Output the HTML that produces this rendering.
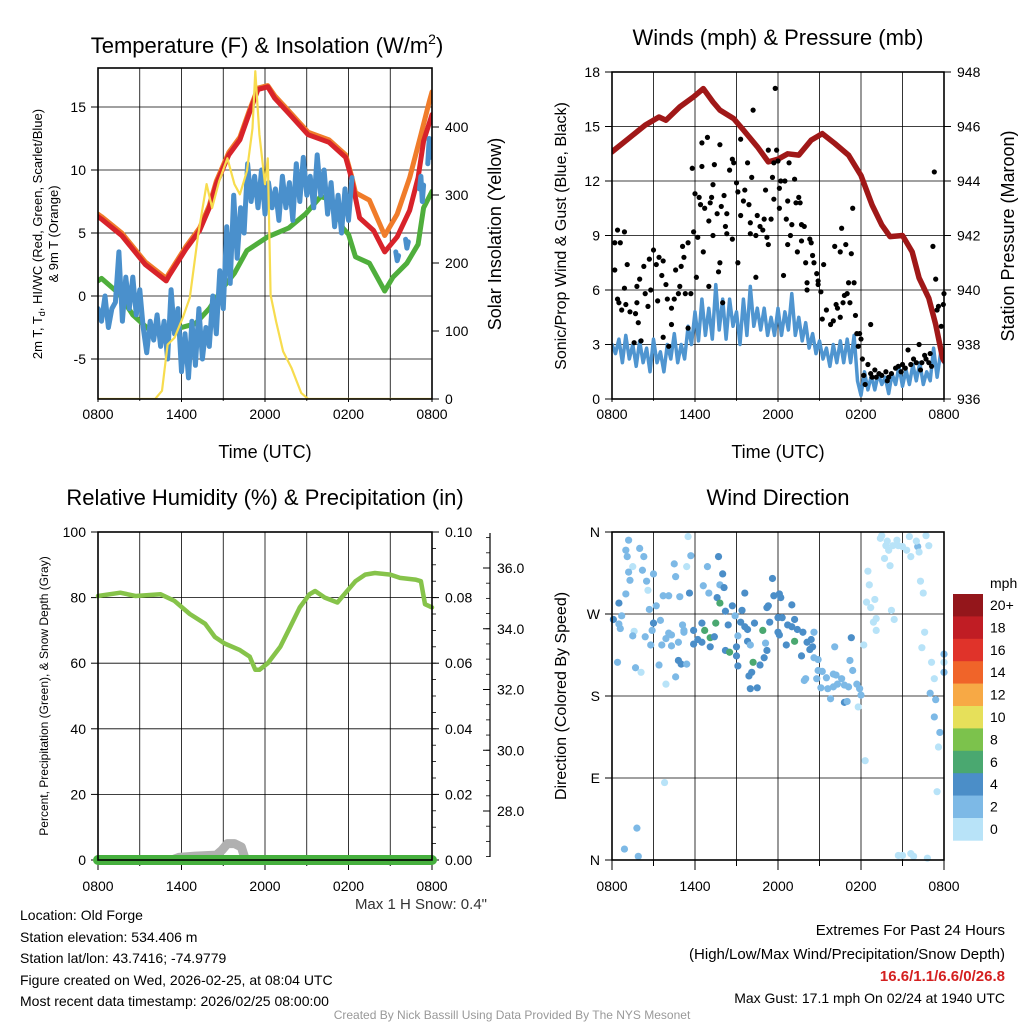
<!DOCTYPE html>
<html><head><meta charset="utf-8">
<style>
html,body{margin:0;padding:0;background:#fff;}
svg{display:block;font-family:"Liberation Sans",Arial,sans-serif;}
</style></head>
<body>
<svg id="chart" width="1024" height="1024" viewBox="0 0 1024 1024" xmlns="http://www.w3.org/2000/svg">
<rect width="1024" height="1024" fill="#fff"/>
<g id="p1"></g>
<g id="p2"></g>
<g id="p3"></g>
<g id="p4"></g>

<text x="267" y="53" font-size="22" text-anchor="middle">Temperature (F) &amp; Insolation (W/m<tspan dy="-9" font-size="14">2</tspan><tspan dy="9">)</tspan></text>
<text x="778" y="45" font-size="22" text-anchor="middle">Winds (mph) &amp; Pressure (mb)</text>
<text x="265" y="505" font-size="22" text-anchor="middle">Relative Humidity (%) &amp; Precipitation (in)</text>
<text x="778" y="505" font-size="22" text-anchor="middle">Wind Direction</text>

<text transform="translate(42,234) rotate(-90)" font-size="13" text-anchor="middle">2m T, T<tspan font-size="9" dy="3">d</tspan><tspan dy="-3">, HI/WC (Red, Green, Scarlet/Blue)</tspan></text>
<text transform="translate(58,234) rotate(-90)" font-size="13" text-anchor="middle">&amp; 9m T (Orange)</text>
<text transform="translate(501,234) rotate(-90)" font-size="18" text-anchor="middle">Solar Insolation (Yellow)</text>
<text x="265" y="458" font-size="18" text-anchor="middle">Time (UTC)</text>
<text transform="translate(566,236) rotate(-90)" font-size="16" text-anchor="middle">Sonic/Prop Wind &amp; Gust (Blue, Black)</text>
<text transform="translate(1014,236) rotate(-90)" font-size="18" text-anchor="middle">Station Pressure (Maroon)</text>
<text x="778" y="458" font-size="18" text-anchor="middle">Time (UTC)</text>
<text transform="translate(48,696) rotate(-90)" font-size="12" text-anchor="middle">Percent, Precipitation (Green), &amp; Snow Depth (Gray)</text>
<text transform="translate(566,696) rotate(-90)" font-size="16" text-anchor="middle">Direction (Colored By Speed)</text>
<text x="487" y="909" font-size="15" fill="#333" text-anchor="end">Max 1 H Snow: 0.4"</text>

<g font-size="14">
<text x="20" y="920">Location: Old Forge</text>
<text x="20" y="942">Station elevation: 534.406 m</text>
<text x="20" y="963">Station lat/lon: 43.7416; -74.9779</text>
<text x="20" y="985">Figure created on Wed, 2026-02-25, at 08:04 UTC</text>
<text x="20" y="1006">Most recent data timestamp: 2026/02/25 08:00:00</text>
</g>
<g font-size="15" text-anchor="end">
<text x="1005" y="935">Extremes For Past 24 Hours</text>
<text x="1005" y="959">(High/Low/Max Wind/Precipitation/Snow Depth)</text>
<text x="1005" y="981" fill="#d42020" font-weight="bold">16.6/1.1/6.6/0/26.8</text>
<text x="1005" y="1003" font-size="14">Max Gust: 17.1 mph On 02/24 at 1940 UTC</text>
</g>
<text x="512" y="1019" font-size="12" fill="#999" text-anchor="middle">Created By Nick Bassill Using Data Provided By The NYS Mesonet</text>
</svg>
<script>
// ---------- DATA (hours since 0800 UTC) ----------
const xTickLabels = ["0800","1400","2000","0200","0800"];
const tempTicks = [-5,0,5,10,15];
const insolTicks = [0,100,200,300,400];
const windTicks = [0,3,6,9,12,15,18];
const presTicks = [936,938,940,942,944,946,948];
const rhTicks = [0,20,40,60,80,100];
const precipTicks = ["0.00","0.02","0.04","0.06","0.08","0.10"];
const snowTicks = ["28.0","30.0","32.0","34.0","36.0"];
const dirTicks = ["N","E","S","W","N"];
const speedLabels = ["0","2","4","6","8","10","12","14","16","18","20+"];
const speedColors = ["#b8e3f8","#7db9e6","#4b8ec8","#4aa870","#7cc24c","#e6e05a","#f7a945","#f06429","#e0332a","#c01d24","#94161b"];

const redHours = [0,0.25,1.7,3.4,4.9,5.1,6.3,7.3,8,8.5,9.4,10.2,10.9,11.5,12.2,12.7,13.7,15.1,16.6,17.8,18.2,18.8,19.8,20.6,21.5,22.4,23,23.4,24];
const redT = [6.3,6.1,4.8,2.5,1.2,1.6,3.7,5.2,7,8.9,11.2,12.4,14.6,16.4,16.6,15.7,14.5,12.8,12.2,11,9.4,6.2,5.2,3.5,4.7,6.8,9.4,12.3,14.4];
const orangeHours = [0,0.25,1.7,3.4,4.9,5.1,6.3,7.3,8,8.5,9.4,10.2,10.9,11.5,12.2,12.7,13.7,15.1,16.6,17.8,18.2,18.5,19.5,20.6,21.5,22.4,23.2,23.8,24];
const orangeT = [6.5,6.3,5,2.7,1.4,1.8,3.9,5.4,7.2,9.1,11.4,12.6,14.8,16.5,16.7,15.9,14.7,13,12.4,11.2,9.6,8.2,7.6,4.8,6.5,9.4,12.8,15.4,16.2];
const greenHours = [0,0.25,1.5,2.5,3.7,5,6,7,8,9,9.8,10.7,12.2,13.7,14.9,16,16.8,17.6,18,18.5,19.5,20.6,21.2,22.2,23,23.4,24];
const greenTd = [1.2,1.4,0.2,-1.5,-2.7,-2.6,-2.5,-2.2,-1,0.7,1.8,3.6,4.7,5.4,6.5,7.9,7.6,5.4,4.9,3.1,2.6,0.4,1.5,2.6,4.1,7,8.3];
const blueHours = [0,0.25,0.5,0.75,1,1.25,1.5,1.75,2,2.25,2.5,2.75,3,3.25,3.5,3.75,4,4.25,4.5,4.75,5,5.25,5.5,5.75,6,6.25,6.5,6.75,7,7.25,7.5,7.75,8,8.25,8.5,8.75,9,9.25,9.5,9.75,10,10.25,10.5,10.75,11,11.25,11.5,11.75,12,12.25,12.5,12.75,13,13.25,13.5,13.75,14,14.25,14.5,14.75,15,15.25,15.5,15.75,16,16.25,16.5,16.75,17,17.25,17.5,17.75,18,18.25,null,21.4,21.5,21.6,null,22.1,22.2,22.3,null,23.1,23.2,23.3,23.4,null,23.7,23.8,23.9,24];
const blueT = [-1,-2,0,-2.5,-1,-0.5,3.5,-2,1.5,-1,1.5,-1.5,0.5,-2.5,-4.5,-2,-3.5,-1.5,-4,-2,-5,0.5,-3,-1,-6,-3,-6.5,-2,-5.5,-1,-5,-2.5,-4,0,-3,2,-1,5.5,1,8,3,7,5,10.5,7.5,9.5,7,10,6.5,9,7,8.5,6,9.5,7,9,6,10.5,7.5,11,8,9.5,7,11.2,8,10,6.5,9,5.5,8,5,8.5,6,9.4,null,3.5,2.8,3.2,null,4.5,3.8,4.3,null,8.5,9.5,7.5,8.8,null,10.5,12.5,11,12];
const insolHours = [0,4.1,4.6,5,5.5,6.1,6.6,7.2,7.8,8.2,8.7,9.3,9.8,10.2,10.7,11.1,11.3,11.6,12,12.2,12.4,12.8,13.3,13.9,14.6,15.1,24];
const insol = [0,0,12,80,90,120,149,242,316,281,320,354,316,301,335,398,482,389,316,354,153,114,70,46,9,0,0];

const presHours = [0,1.2,2.4,3.4,3.9,4.9,5.9,6.6,7.3,7.8,8.8,9.5,10.5,11.3,12,12.7,13.5,14.4,15.2,16.1,17.1,18,18.8,19.5,20.1,21,21.7,22.2,22.9,23.4,23.9,24];
const pressure = [945.07,945.56,946.05,946.35,946.23,946.72,947.09,947.39,946.9,946.6,946.29,945.87,945.26,944.7,944.8,945.0,944.95,945.5,945.74,945.38,944.95,944.2,943.12,942.39,941.96,942.0,941.4,940.44,939.7,938.73,937.5,937.4];
const windSpd = [3,2.5,3.3,2,3.5,2.2,3,1.8,3.2,2,2.8,1.5,3.3,2,2.6,1.5,3,2.2,3.6,2,3,2.2,4,3,4.8,3.2,5.5,3.5,5,3.3,6.3,3.8,5.5,3.3,5.5,4,4.8,3,5.5,3.5,6.2,4,5,3.8,5,3.5,4.5,3.5,5,3.5,4.8,3.8,5.8,3.5,4.5,3.2,4.2,2.8,3.6,2.5,3.2,2.2,2.8,1.8,3,2,3.2,2,3.3,2,3.5,1,0.2,1.5,0.5,1.3,0.5,1.4,0.8,1.2,0.3,1.4,0.8,1.8,0.7,1.6,0.8,1.9,1,2,0.8,1.5,1,2.8,1.2,2.5,2];
const gustPoints = [[0.2,8.6],[0.4,9.3],[0.6,8.6],[0.9,9.2],[0.2,7.1],[0.4,5.5],[0.5,5.3],[0.7,4.9],[0.9,6.1],[1.1,7.4],[1,5.2],[1.3,4.8],[1.6,3.1],[1.7,4.7],[1.8,6.2],[1.9,4.2],[1.8,5.3],[2.1,3.2],[2,6.6],[2.3,7.3],[2.4,5.8],[2.6,5.1],[2.7,7.7],[2.8,6],[3,8.2],[3.2,7.4],[3.3,5.4],[3.4,7.8],[3.6,6.8],[3.7,7.6],[3.7,3.4],[3.9,6.3],[4,5.5],[4.1,2.9],[4.3,4.1],[4.3,5],[4.5,5.5],[4.6,7.1],[4.8,5.8],[4.9,6.2],[5,7.3],[5.1,8.4],[5.2,7.8],[5.3,5.8],[5.5,8.6],[5.5,3.9],[5.7,5.8],[5.8,12.7],[5.9,9.2],[6,11.3],[6.1,6.7],[6.2,8.9],[6.3,11.1],[6.4,10.7],[6.5,12.8],[6.5,14.1],[6.6,8.1],[6.7,10.5],[6.9,14.4],[7,9.8],[7,6.2],[7.1,10.8],[7.2,11.1],[7.3,11.8],[7.3,9],[7.4,12.9],[7.6,10.2],[7.7,7],[7.8,14],[7.8,7.5],[7.9,10.6],[8,5.3],[8.1,11.2],[8.2,9.5],[8.3,9.1],[8.3,10.2],[8.5,12.6],[8.7,13.2],[8.7,8.8],[8.8,13],[9,11.9],[9.1,11.4],[9.1,7.5],[9.3,10.1],[9.3,14.3],[9.5,10.9],[9.6,11.5],[9.8,13],[9.9,10.7],[10,9.1],[10,9.7],[10.1,12.2],[10.2,15.9],[10.4,9],[10.4,6.7],[10.5,10.1],[10.7,9.5],[10.9,9.3],[11,9.9],[11.1,11.5],[11.2,8.9],[11.3,8.5],[11.3,13.7],[11.5,9.9],[11.6,12.2],[11.7,13],[11.7,11],[11.8,17.1],[11.9,13.7],[12,13.1],[12.1,11.6],[12.1,10.5],[12.2,12],[12.4,6.8],[12.5,12],[12.6,9.9],[12.7,10.9],[12.7,8.5],[12.8,13],[12.9,9],[13,9.6],[13.2,12.1],[13.3,10.8],[13.4,8.1],[13.5,11.1],[13.6,10.8],[13.7,9.6],[13.7,8.7],[13.9,9.5],[14,7.5],[14.1,6.4],[14.1,6],[14.3,8.8],[14.4,8.6],[14.5,7.9],[14.6,7.5],[14.8,6.9],[14.9,6.5],[14.9,6.3],[15.1,5.9],[15.2,4.4],[15.3,7.4],[15.5,4.9],[15.8,4.1],[16,4.3],[16.1,8.4],[16.2,5.2],[16.3,5],[16.5,4.5],[16.5,8.1],[16.6,9.4],[16.7,5.3],[16.8,5.7],[16.9,8.5],[17,5.8],[17.1,6.4],[17.2,5.3],[17.3,8],[17.4,10.5],[17.5,6.4],[17.6,4.6],[17.7,3.6],[17.8,2.9],[17.9,3.6],[18,3.3],[18.1,2.2],[18.2,1.3],[18.3,0.8],[18.5,1.9],[18.7,1.4],[18.7,4.1],[18.8,1.2],[19,1.6],[19.3,1.4],[19.5,1.3],[19.8,1.5],[20,1.2],[20.2,1.4],[20.5,1.7],[20.7,1.8],[21,1.9],[21.2,1.7],[21.4,2.7],[21.6,1.9],[21.8,2.2],[22,2],[22.2,3],[22.4,2],[22.6,2.4],[22.7,2.2],[22.9,2],[23,2.5],[23.2,8.4],[23.3,12.5],[23.4,6.6],[23.5,4.9],[23.6,5.1],[23.8,4],[24,5.8],[23.95,5.2],[19.1,1.2],[19.9,1.0],[20.9,1.5],[22.3,1.6],[23.1,1.8]];

const rhHours = [0,1.6,2.7,4.5,5.5,6.6,7.7,8.4,9.1,10.2,10.9,11.3,11.6,12.2,13.1,13.8,14.5,15.2,15.6,16.3,17.2,17.7,18.5,19.2,19.9,21,21.7,22.8,23.2,23.5,24];
const rh = [80.5,81.5,80.5,81,79,75,72,68,66,64,62,58,58,60,65,71,77,81,82,80,78.5,81,85,87,87.5,87,86,85.5,85,78,77];
const snowHours = [0,5.3,5.8,7,8.5,8.9,9.3,9.8,10.3,10.6,24];
const snowVals = [0,0,0.8,1.2,1.5,3,5,5,4,0,0];
const precipHours = [0,24];
const precip = [0,0];

const dirPoints = [[1.2,351,2],[5.5,355,0],[1.0,340,2],[2.0,342,2],[1.1,333,2],[2.3,333,2],[1.5,322,0],[4.5,325,2],[5.4,322,0],[5.7,334,2],[7.7,333,4],[6.9,322,2],[1.2,316,2],[2.2,318,2],[3.0,314,2],[4.6,311,2],[8.0,314,4],[1.3,307,2],[2.5,306,2],[2.6,296,0],[6.6,301,2],[7.8,302,2],[8.1,299,4],[11.6,309,4],[1.0,292,2],[3.7,290,2],[4.1,290,2],[4.9,289,2],[5.6,293,4],[7.0,293,2],[9.6,293,4],[11.7,290,4],[12.1,292,4],[12.2,288,4],[0.5,282,4],[2.7,275,2],[3.2,279,2],[7.6,288,4],[7.8,282,6],[8.7,279,4],[8.2,273,4],[11.3,279,4],[11.2,277,4],[13.0,280,4],[9.4,274,4],[8.9,268,2],[0.7,268,2],[0.1,264,4],[0.5,259,2],[0.6,254,2],[3.0,260,4],[3.5,263,2],[5.1,258,2],[5.2,252,2],[5.9,252,4],[6.5,260,4],[7.5,260,6],[6.7,252,6],[8.4,258,4],[9.3,261,4],[9.6,256,4],[9.8,253,4],[10.3,260,4],[10.9,252,6],[11.4,261,4],[12.0,266,4],[12.3,266,4],[13.2,264,4],[12.7,258,4],[13.0,256,4],[13.4,253,4],[13.8,250,4],[14.6,250,2],[1.6,251,0],[1.5,246,2],[2.4,245,2],[2.9,252,2],[4.1,249,2],[4.3,247,2],[3.9,243,2],[4.3,235,2],[4.8,239,2],[5.2,250,2],[6.2,242,4],[6.5,239,4],[7.1,244,6],[7.4,245,4],[7.1,234,4],[5.9,237,4],[9.1,246,2],[9.8,240,4],[10.0,236,2],[11.1,238,2],[12.0,250,4],[12.1,247,4],[12.6,236,4],[13.2,240,6],[14.1,239,4],[14.4,242,4],[14.5,234,4],[14.3,231,4],[17.3,244,4],[16.1,234,2],[8.2,230,4],[8.5,228,6],[9.0,234,4],[9.0,224,4],[11.2,230,4],[11.0,222,4],[13.7,224,4],[14.6,222,2],[14.9,220,2],[3.6,236,2],[2.8,236,2],[0.4,217,2],[3.4,214,2],[4.8,219,4],[5.0,215,4],[5.4,215,2],[10.2,217,6],[10.7,214,4],[9.1,213,4],[1.7,211,2],[2.1,206,0],[4.6,201,2],[3.9,193,0],[10.1,206,4],[9.9,202,4],[10.0,188,4],[10.5,189,4],[14.0,199,2],[13.9,197,2],[14.8,199,2],[14.9,208,2],[15.2,207,2],[15.5,200,2],[16.0,204,2],[16.2,203,2],[16.6,199,2],[16.3,193,2],[17.2,219,2],[17.4,208,2],[15.1,189,2],[15.6,188,2],[16.0,190,2],[16.8,192,2],[17.1,190,2],[17.7,193,2],[17.9,188,2],[15.8,177,2],[16.8,173,4],[17.0,174,2],[18.0,181,2],[17.8,168,0],[18.2,236,0],[18.5,317,0],[18.6,302,0],[18.4,283,0],[18.7,277,0],[19.0,286,0],[18.9,261,0],[19.1,265,0],[19.1,252,0],[19.4,353,0],[19.5,356,0],[19.8,345,0],[20.0,340,0],[19.7,331,0],[20.1,323,0],[20.2,274,0],[20.4,264,0],[20.7,345,0],[21.0,344,0],[20.6,351,0],[21.5,355,0],[21.6,333,0],[22.1,344,2],[22.2,338,0],[22.7,356,0],[22.9,345,0],[22.3,306,0],[22.5,293,0],[22.6,250,0],[22.4,233,0],[23.1,217,0],[23.3,199,0],[23.0,183,2],[23.4,176,2],[23.3,157,2],[23.7,140,2],[23.6,124,0],[24.0,226,2],[24.0,206,2],[24.0,217,0],[18.3,109,0],[23.5,75,0],[3.8,85,0],[1.8,35,2],[0.9,12,2],[1.9,4,2],[20.7,5,0],[21.0,5,0],[21.6,7,0],[21.8,4,0],[22.8,2,0],[19.9,350,0],[20.3,345,0],[21.3,340,0],[22.0,350,0]];

// ---------- HELPERS ----------
const NS = "http://www.w3.org/2000/svg";
function mk(parent, tag, attrs){ const e=document.createElementNS(NS,tag); for(const k in attrs) e.setAttribute(k,attrs[k]); parent.appendChild(e); return e; }
function lin(d0,d1,r0,r1){ return v => r0 + (v-d0)/(d1-d0)*(r1-r0); }
function txt(parent, x, y, s, size, anchor){ const t=mk(parent,'text',{x:x,y:y,'font-size':size,'text-anchor':anchor||'middle'}); t.textContent=s; return t; }

function frame(g, L, R, T, B, yTickVals, yFn, yLabels, name, labOff, tickLen){
  const grid = mk(g,'g',{stroke:'#000','stroke-width':0.8});
  
  
  const xs = lin(0,24,L,R);
  for(let h=3; h<24; h+=3) mk(grid,'line',{x1:xs(h),x2:xs(h),y1:T,y2:B});
  yTickVals.forEach(v=>{ const y=yFn(v); if(y>T+1 && y<B-1) mk(grid,'line',{x1:L,x2:R,y1:y,y2:y}); });
  const xl = mk(g,'g',{});
  
  
  for(let h=0; h<=24; h+=3) mk(xl,'line',{x1:xs(h),x2:xs(h),y1:B,y2:B+tickLen*(h%6===0?1:0.6),stroke:'#000'});
  xTickLabels.forEach((s,i)=>{ txt(xl, xs(i*6), B+labOff, s, 14); });
  const yl = mk(g,'g',{});
  
  
  yTickVals.forEach((v,i)=>{ const y=yFn(v); txt(yl, L-12, y+5, yLabels[i], 14, 'end'); mk(yl,'line',{x1:L-7,x2:L,y1:y,y2:y,stroke:'#000'}); });
  return xs;
}
function border(g,L,R,T,B){ mk(g,'rect',{x:L,y:T,width:R-L,height:B-T,fill:'none',stroke:'#000','stroke-width':1.6}); }
function rightAxis(g,R,ticks,fn,labels,name,minorStep,minorFrom,minorTo){
  const a=mk(g,'g',{});
  
  
  ticks.forEach((v,i)=>{ const y=fn(v); mk(a,'line',{x1:R,x2:R+7,y1:y,y2:y,stroke:'#000'}); txt(a,R+13,y+5,labels[i],14,'start'); });
  if(minorStep){ for(let v=minorFrom; v<=minorTo+1e-9; v+=minorStep){ const y=fn(v); mk(a,'line',{x1:R,x2:R+4,y1:y,y2:y,stroke:'#000','stroke-width':0.8}); } }
}
function poly(g, hours, vals, xs, ys, style, name){
  const grp = mk(g,'g',{});
  
  
  let seg=[];
  const flush=()=>{ if(seg.length){ mk(grp,'polyline',Object.assign({points:seg.join(' '),fill:'none','stroke-linejoin':'round','stroke-linecap':'round'},style)); } seg=[]; };
  hours.forEach((h,i)=>{ if(h===null||vals[i]===null){ flush(); return; } seg.push(xs(h).toFixed(1)+','+ys(vals[i]).toFixed(1)); });
  flush();
  return grp;
}
const step = (arr, dt) => arr.map((_,i)=>i*dt);

// ---------- PANEL 1 ----------
(function(){
  const g=document.getElementById('p1'); const L=98,R=432,T=68,B=399;
  const y=lin(0,5,296,233); const yi=lin(0,100,399,331);
  const xs=frame(g,L,R,T,B,tempTicks,y,tempTicks.map(String),'temp',20,3);
  rightAxis(g,R,insolTicks,yi,insolTicks.map(String),'insolation-axis');
  const cp=mk(mk(g,'defs',{}),'clipPath',{id:'c1'}); mk(cp,'rect',{x:L,y:T,width:R-L,height:B-T});
  const cl=mk(g,'g',{'clip-path':'url(#c1)'});
  poly(cl, greenHours, greenTd, xs, y, {stroke:'#4fae3c','stroke-width':5}, 'dewpoint-line');
  poly(cl, orangeHours, orangeT, xs, y, {stroke:'#f07c2a','stroke-width':5}, 'temp-9m-line');
  poly(cl, redHours, redT, xs, y, {stroke:'#d8232a','stroke-width':5}, 'temp-2m-line');
  poly(cl, blueHours, blueT, xs, y, {stroke:'#4a90cc','stroke-width':5}, 'wind-chill-line');
  poly(cl, insolHours, insol, xs, yi, {stroke:'#f7dc4e','stroke-width':2.2}, 'insolation-line');
  border(g,L,R,T,B);
})();

// ---------- PANEL 2 ----------
(function(){
  const g=document.getElementById('p2'); const L=612,R=944,T=72,B=399;
  const y=lin(0,18,399,72); const yp=lin(936,948,399,72);
  const xs=frame(g,L,R,T,B,windTicks,y,windTicks.map(String),'wind',20,3);
  rightAxis(g,R,presTicks,yp,presTicks.map(String),'pressure-axis');
  const cp=mk(mk(g,'defs',{}),'clipPath',{id:'c2'}); mk(cp,'rect',{x:L,y:T,width:R-L,height:B-T});
  const cl=mk(g,'g',{'clip-path':'url(#c2)'});
  poly(cl, step(windSpd,0.25), windSpd, xs, y, {stroke:'#4f95d0','stroke-width':3.5}, 'wind-speed-line');
  const gg=mk(g,'g',{fill:'#000'});
  
  
  gustPoints.forEach(p=>{ const c=mk(gg,'circle',{cx:xs(p[0]),cy:y(p[1]),r:2.6});
    
     });
  poly(cl, presHours, pressure, xs, yp, {stroke:'#a01818','stroke-width':5.5}, 'pressure-line');
  border(g,L,R,T,B);
})();

// ---------- PANEL 3 ----------
(function(){
  const g=document.getElementById('p3'); const L=98,R=432,T=532,B=860;
  const y=lin(0,100,860,532);
  const xs=frame(g,L,R,T,B,rhTicks,y,rhTicks.map(String),'rh',31,10);
  rightAxis(g,R,rhTicks,y,precipTicks,'precip-axis',5,0,100);
  const ys=lin(28,36,811,568);
  const a=mk(g,'g',{});
  
  
  mk(a,'line',{x1:490,x2:490,y1:533,y2:857,stroke:'#000','stroke-width':1.2});
  for(let v=26.5; v<=37.2; v+=0.5){ const yy=ys(v); if(yy>=533&&yy<=857) mk(a,'line',{x1:486,x2:490,y1:yy,y2:yy,stroke:'#000','stroke-width':0.8}); }
  snowTicks.forEach(s=>{ const yy=ys(parseFloat(s)); mk(a,'line',{x1:483,x2:490,y1:yy,y2:yy,stroke:'#000'}); txt(a,497,yy+5,s,14,'start'); });
  poly(g, snowHours, snowVals, xs, y, {stroke:'#b0b0b0','stroke-width':9}, 'snow-depth-line');
  const yPrecip=lin(0,0.1,860,532);
  poly(g, precipHours, precip, xs, yPrecip, {stroke:'#46b03e','stroke-width':10}, 'precip-line');
  poly(g, rhHours, rh, xs, y, {stroke:'#86c34a','stroke-width':4.5}, 'rh-line');
  border(g,L,R,T,B);
})();

// ---------- PANEL 4 ----------
(function(){
  const g=document.getElementById('p4'); const L=612,R=944,T=532,B=860;
  const y=lin(0,360,860,532);
  const dv=[0,90,180,270,360];
  const xs=frame(g,L,R,T,B,dv,y,dirTicks,'direction',31,10);
  const pg=mk(g,'g',{});
  
  
  dirPoints.forEach(p=>{ const idx=Math.min(10,Math.round(p[2]/2));
    const c=mk(pg,'circle',{cx:xs(p[0]),cy:y(p[1]),r:3.6,fill:speedColors[idx]});
    
     });
  border(g,L,R,T,B);
  const lg=mk(g,'g',{});
  
  
  const bh=22.4;
  speedColors.slice().reverse().forEach((c,i)=>{ mk(lg,'rect',{x:953,y:594+i*bh,width:30,height:bh+0.3,fill:c}); });
  txt(lg,990,588,'mph',14,'start');
  speedLabels.slice().reverse().forEach((s,i)=>{ txt(lg,990,610+i*bh,s,14,'start'); });
})();
</script>
</body></html>
